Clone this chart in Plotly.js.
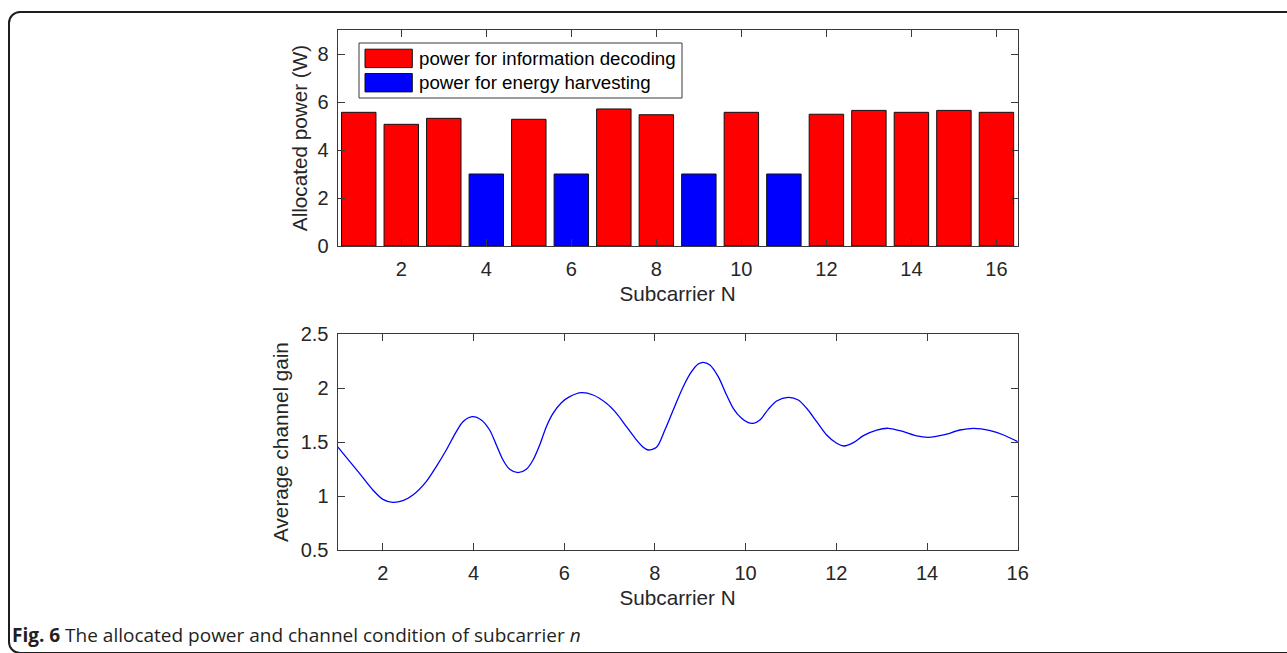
<!DOCTYPE html>
<html>
<head>
<meta charset="utf-8">
<script src="https://cdn.plot.ly/plotly-3.0.1.min.js"></script>
<style>
  html, body { margin: 0; padding: 0; background: #fff; overflow: hidden; }
  #wrap { position: relative; width: 1287px; height: 653px; }
  #frame { position: absolute; left: 8px; top: 11px; width: 1320px; height: 643px;
           border: 2px solid #1e1e1e; border-radius: 12px; box-sizing: border-box; pointer-events: none; }
  #chart { position: absolute; left: 0; top: 0; width: 1287px; height: 653px; }
</style>
</head>
<body>
<div id="wrap">
  <div id="frame"></div>
  <div id="chart"></div>
</div>
<script>
// ---- data ----
const subcarriers = [1,2,3,4,5,6,7,8,9,10,11,12,13,14,15,16];
const allocatedPower = [5.57,5.07,5.32,3.0,5.28,3.0,5.71,5.47,3.0,5.57,3.0,5.49,5.65,5.57,5.65,5.57];
// 'ID' = information decoding, 'EH' = energy harvesting
const powerUse = ['ID','ID','ID','EH','ID','EH','ID','ID','EH','ID','EH','ID','ID','ID','ID','ID'];
const seriesNames = ['power for information decoding', 'power for energy harvesting'];
const seriesColors = ['#ff0000', '#0000ff'];

// average channel gain curve
const gainX = [1.0,1.486,1.78,2.001,2.221,2.442,2.663,2.957,3.178,3.399,3.62,3.767,3.973,4.171,4.355,4.503,4.65,4.797,4.981,5.165,5.312,5.459,5.606,5.753,5.937,6.121,6.379,6.636,6.931,7.152,7.372,7.593,7.74,7.851,8.035,8.219,8.403,8.624,8.807,8.955,9.065,9.212,9.396,9.58,9.727,9.911,10.058,10.168,10.315,10.499,10.683,10.941,11.162,11.346,11.567,11.787,12.008,12.17,12.376,12.597,12.891,13.149,13.48,13.775,14.032,14.363,14.731,15.026,15.394,15.689,16.0];
const gainY = [1.457,1.21,1.056,0.969,0.941,0.957,1.009,1.133,1.272,1.426,1.596,1.688,1.735,1.704,1.611,1.472,1.333,1.247,1.216,1.247,1.333,1.472,1.642,1.765,1.864,1.92,1.957,1.935,1.858,1.765,1.642,1.519,1.451,1.426,1.451,1.611,1.796,2.012,2.151,2.222,2.238,2.213,2.105,1.935,1.812,1.719,1.679,1.673,1.704,1.802,1.88,1.914,1.889,1.812,1.688,1.565,1.488,1.463,1.494,1.559,1.611,1.627,1.596,1.556,1.543,1.565,1.611,1.627,1.605,1.565,1.503];

const xTicks = [2,4,6,8,10,12,14,16];
const yTicksTop = [0,2,4,6,8];
const yTicksBottom = [0.5,1,1.5,2,2.5];
const xTitle = 'Subcarrier N';
const yTitleTop = 'Allocated power (W)';
const yTitleBottom = 'Average channel gain';
const caption = '<b>Fig. 6</b> The allocated power and channel condition of subcarrier <i>n</i>';

// ---- build traces ----
const W = 1287, H = 653;
const keys = ['ID','EH'];
const traces = keys.map((k, i) => {
  const xs = [], ys = [];
  subcarriers.forEach((s, j) => { if (powerUse[j] === k) { xs.push(s); ys.push(allocatedPower[j]); } });
  return {
    type: 'bar', x: xs, y: ys, name: seriesNames[i], width: 0.81,
    marker: { color: seriesColors[i], line: { color: '#111', width: 1 } },
    xaxis: 'x', yaxis: 'y', showlegend: false, hoverinfo: 'x+y'
  };
});
traces.push({
  type: 'scatter', mode: 'lines', x: gainX, y: gainY, xaxis: 'x2', yaxis: 'y2',
  line: { color: '#0000ff', width: 1.3, shape: 'spline', smoothing: 0.8 }, showlegend: false
});

const font = 'Liberation Sans, Arial, Helvetica, sans-serif';
const axisCommon = {
  showline: true, mirror: 'ticks', linecolor: '#3a3a3a', linewidth: 1,
  ticks: 'inside', ticklen: 7, tickcolor: '#3a3a3a', tickwidth: 1,
  showgrid: false, zeroline: false, fixedrange: true,
  tickfont: { family: font, size: 20, color: '#262626' }
};
const px2x = p => p / W;
const px2y = p => (H - p) / H;

const xDom = [px2x(337.5), px2x(1017.7)];
const layout = {
  width: W, height: H, margin: { l: 0, r: 0, t: 0, b: 0 },
  paper_bgcolor: 'rgba(0,0,0,0)', plot_bgcolor: '#fff',
  barmode: 'overlay', showlegend: false,
  xaxis: Object.assign({}, axisCommon, {
    domain: xDom, range: [0.5, 16.5], tickvals: xTicks, anchor: 'y', ticklabelstandoff: 5,
    title: { text: xTitle, font: { family: font, size: 20.7, color: '#262626' }, standoff: 7 }
  }),
  yaxis: Object.assign({}, axisCommon, {
    domain: [px2y(246), px2y(30)], range: [0, 9], tickvals: yTicksTop, anchor: 'x', ticklabelstandoff: 4,
    title: { text: yTitleTop, font: { family: font, size: 20.7, color: '#262626' }, standoff: 4 }
  }),
  xaxis2: Object.assign({}, axisCommon, {
    domain: xDom, range: [1, 16], tickvals: xTicks, anchor: 'y2', ticklabelstandoff: 5,
    title: { text: xTitle, font: { family: font, size: 20.7, color: '#262626' }, standoff: 7 }
  }),
  yaxis2: Object.assign({}, axisCommon, {
    domain: [px2y(550), px2y(334)], range: [0.5, 2.5], tickvals: yTicksBottom, anchor: 'x2', ticklabelstandoff: 4,
    title: { text: yTitleBottom, font: { family: font, size: 20.7, color: '#262626' }, standoff: 6 }
  }),
  shapes: [],
  annotations: []
};

// custom legend (MATLAB style) in pixel positions of the figure
const lg = { x0: 359, x1: 682, y0: 43, y1: 98 };
layout.shapes.push({ type: 'rect', xref: 'paper', yref: 'paper',
  x0: px2x(lg.x0), x1: px2x(lg.x1), y0: px2y(lg.y1), y1: px2y(lg.y0),
  line: { color: '#3a3a3a', width: 1 }, fillcolor: '#fff', layer: 'above' });
const rows = [58.4, 82.7];
seriesNames.forEach((name, i) => {
  const cy = rows[i];
  layout.shapes.push({ type: 'rect', xref: 'paper', yref: 'paper',
    x0: px2x(365), x1: px2x(412.3), y0: px2y(cy + 9.2), y1: px2y(cy - 9.2),
    line: { color: '#111', width: 1 }, fillcolor: seriesColors[i], layer: 'above' });
  layout.annotations.push({ xref: 'paper', yref: 'paper', x: px2x(416.5), y: px2y(cy),
    xanchor: 'left', yanchor: 'middle', showarrow: false, text: name,
    font: { family: font, size: 18.7, color: '#000' } });
});

layout.annotations.push({ xref: 'paper', yref: 'paper', x: px2x(10), y: px2y(635),
  xanchor: 'left', yanchor: 'middle', showarrow: false, text: caption,
  font: { family: 'Open Sans, Noto Sans, sans-serif', size: 19, color: '#231f20' } });

Plotly.newPlot('chart', traces, layout, { displayModeBar: false, staticPlot: true });
</script>
</body>
</html>
